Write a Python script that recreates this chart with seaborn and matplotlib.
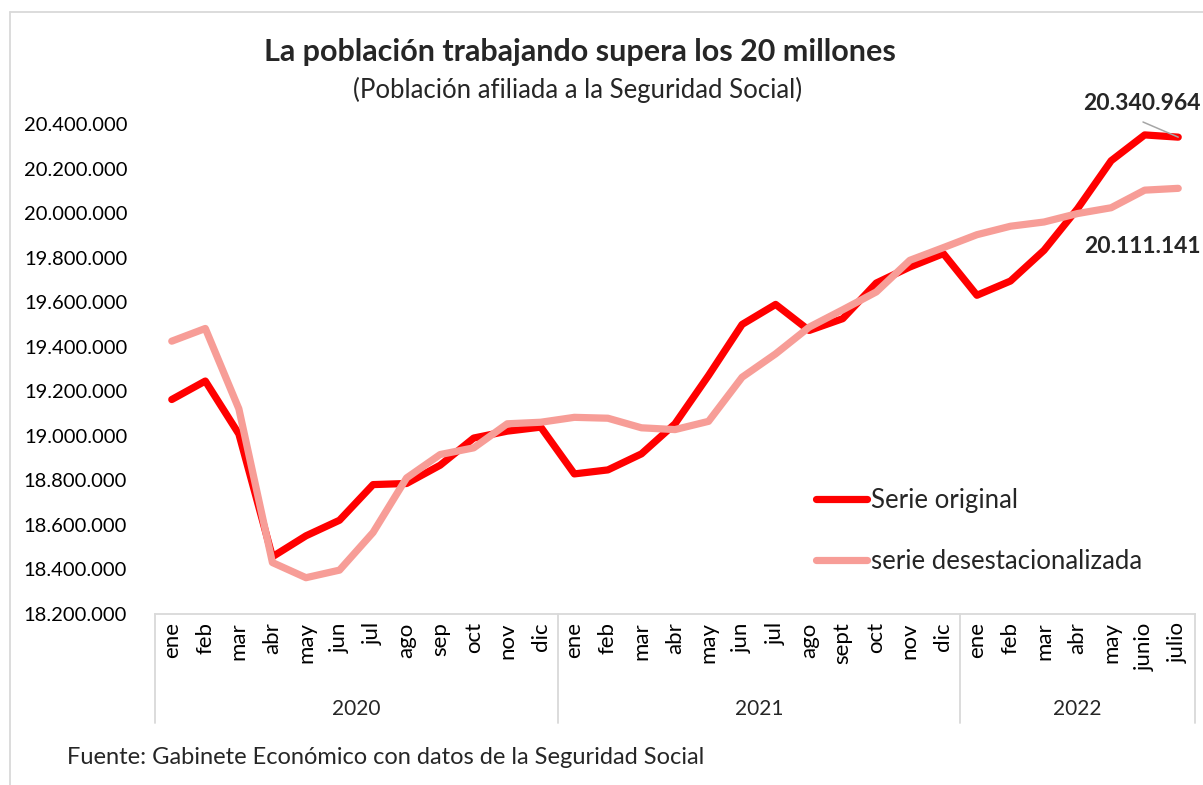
import matplotlib.pyplot as plt
import numpy as np
import pandas as pd
import seaborn as sns
from matplotlib.lines import Line2D
from matplotlib.ticker import FuncFormatter

plt.switch_backend("Agg")

# --- DATA ---
months = ["ene", "feb", "mar", "abr", "may", "jun", "jul", "ago", "sep", "oct", "nov", "dic",
          "ene", "feb", "mar", "abr", "may", "jun", "jul", "ago", "sept", "oct", "nov", "dic",
          "ene", "feb", "mar", "abr", "may", "junio", "julio"]
years = ["2020"] * 12 + ["2021"] * 12 + ["2022"] * 7

serie_original = [19163000, 19246000, 19008000, 18457000, 18551000, 18621000, 18781000, 18786000,
                  18868000, 18990000, 19021000, 19039000,
                  18829000, 18847000, 18919000, 19054000, 19271000, 19500000, 19590000, 19473000,
                  19526000, 19686000, 19758000, 19818000,
                  19631000, 19695000, 19833000, 20020000, 20235000, 20351000, 20340964]
serie_desest = [19425000, 19482000, 19121000, 18431000, 18363000, 18397000, 18566000, 18811000,
                18916000, 18946000, 19054000, 19061000,
                19083000, 19079000, 19036000, 19028000, 19065000, 19263000, 19368000, 19488000,
                19566000, 19646000, 19788000, 19845000,
                19903000, 19941000, 19960000, 19998000, 20024000, 20103000, 20111141]

series_names = ["Serie original", "serie desestacionalizada"]
colors = ["#FF0000", "#F79D97"]


def fmt_es(v):
    return f"{v:,.0f}".replace(",", ".")


# --- STYLE ---
sns.set_style("white")
plt.rcParams["font.family"] = ["Lato", "DejaVu Sans"]

W, H = 1203, 785
fig = plt.figure(figsize=(W / 100, H / 100), dpi=100)

# plot area in pixels: x 155..1195, y 124..614
ax_l, ax_r, ax_t, ax_b = 155, 1195, 124, 614
ax = fig.add_axes([ax_l / W, 1 - ax_b / H, (ax_r - ax_l) / W, (ax_b - ax_t) / H])

x = np.arange(len(months))
df = pd.DataFrame({
    "x": np.concatenate([x, x]),
    "valor": serie_original + serie_desest,
    "serie": [series_names[0]] * len(x) + [series_names[1]] * len(x),
})

for name, col in zip(series_names, colors):
    sns.lineplot(data=df[df["serie"] == name], x="x", y="valor", color=col, lw=5.2,
                 ax=ax, label=name, solid_capstyle="round", solid_joinstyle="round")

ax.set_xlim(-0.5, len(months) - 0.5)
ax.set_ylim(18200000, 20400000)
ax.set_yticks(np.arange(18200000, 20400001, 200000))
ax.yaxis.set_major_formatter(FuncFormatter(lambda v, p: fmt_es(v)))
ax.tick_params(axis="y", length=0, pad=20, labelsize=14.5, labelcolor="#000000")
ax.set_xticks(x)
ax.set_xticklabels(months, rotation=90, va="top", ha="center")
ax.tick_params(axis="x", length=0, pad=6, labelsize=16, labelcolor="#000000")
ax.set_xlabel("")
ax.set_ylabel("")

for s in ["left", "right", "top"]:
    ax.spines[s].set_visible(False)
ax.spines["bottom"].set_color("#D9D9D9")
ax.spines["bottom"].set_linewidth(1.3)

# multi-level category axis: separators and year labels
trans = ax.get_xaxis_transform()
sep_bottom = -(723 - ax_b) / (ax_b - ax_t)
year_y = -(709 - ax_b) / (ax_b - ax_t)
year_list = list(dict.fromkeys(years))
bounds = [-0.5]
for yr in year_list:
    bounds.append(bounds[-1] + years.count(yr))
for b in bounds:
    ax.plot([b, b], [0, sep_bottom], transform=trans, color="#D9D9D9", lw=1.3, clip_on=False)
for yr, a, b in zip(year_list, bounds[:-1], bounds[1:]):
    ax.text((a + b) / 2, year_y, yr, transform=trans, ha="center", va="center", fontsize=15)

# legend
leg = ax.legend(loc="upper left", bbox_to_anchor=((816 - ax_l) / (ax_r - ax_l), 1 - (488 - ax_t) / (ax_b - ax_t)),
                frameon=False, fontsize=18.5, handlelength=2.0, handletextpad=0.15, labelspacing=1.42,
                borderpad=0, borderaxespad=0)
for h in leg.get_lines():
    h.set_linewidth(5.2)
    h.set_solid_capstyle("round")

# data labels on the last points
ax.annotate(fmt_es(serie_original[-1]), xy=(x[-1], serie_original[-1]), xytext=(22, 34),
            textcoords="offset pixels", ha="right", va="center", fontsize=16.5, fontweight="bold")
ax.plot([x[-1] - 1.05, x[-1]], [serie_original[-1] + 68000, serie_original[-1]],
        color="#A6A6A6", lw=1.1, clip_on=False)
ax.annotate(fmt_es(serie_desest[-1]), xy=(x[-1], serie_desest[-1]), xytext=(22, -58),
            textcoords="offset pixels", ha="right", va="center", fontsize=16.5, fontweight="bold")

# titles and source
fig.text(580 / W, 1 - 52 / H, "La población trabajando supera los 20 millones",
         ha="center", va="center", fontsize=22, fontweight="bold")
fig.text(578 / W, 1 - 90 / H, "(Población afiliada a la Seguridad Social)",
         ha="center", va="center", fontsize=18.5)
fig.text(67 / W, 1 - 757 / H, "Fuente: Gabinete Económico con datos de la Seguridad Social",
         ha="left", va="center", fontsize=17)

# chart border (top and left edges visible)
fig.add_artist(Line2D([10 / W, 10 / W], [0, 1 - 12 / H], transform=fig.transFigure, color="#D9D9D9", lw=1.3))
fig.add_artist(Line2D([10 / W, 1], [1 - 12 / H, 1 - 12 / H], transform=fig.transFigure, color="#D9D9D9", lw=1.3))

fig.savefig("out.png", dpi=100)
